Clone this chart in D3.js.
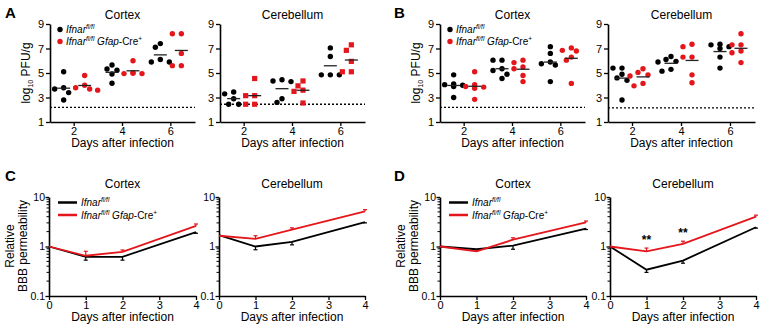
<!DOCTYPE html>
<html><head><meta charset="utf-8">
<script src="https://cdn.jsdelivr.net/npm/d3@7"></script>
<style>
html,body{margin:0;padding:0;background:#fff;}
svg{display:block;font-family:"Liberation Sans",Arial,sans-serif;}
</style></head><body>
<svg id="c" width="768" height="331"></svg>
<script>
// ---------- DATA ----------
const dayGroups = ["2", "4", "6"];
const scatterTicks = [1, 3, 5, 7, 9];
// Panel A (5 mice per group)
const aCortexCtrl = [[5.1, 3.8, 3.7, 3.4, 2.8], [5.65, 5.33, 5.22, 4.92, 4.16], [7.4, 7.1, 6.1, 5.9, 5.9]];
const aCortexKO   = [[4.8, 4.0, 3.8, 3.7, 3.6], [6.0, 5.0, 4.95, 4.95, 5.0], [8.2, 8.2, 6.6, 5.6, 5.6]];
const aCerebCtrl  = [[3.45, 3.3, 2.9, 2.45, 2.45], [4.45, 4.35, 4.3, 2.9, 2.6], [7.05, 6.35, 4.85, 4.85, 4.85]];
const aCerebKO    = [[4.55, 3.15, 3.15, 2.45, 2.45], [4.35, 3.95, 3.6, 3.5, 2.55], [7.3, 6.85, 5.95, 5.1, 5.1]];
const aLimit = [2.2, 2.45];
// Panel B (6 mice per group)
const bCortexCtrl = [[4.85, 4.1, 4.05, 4.0, 3.9, 3.0], [6.05, 6.05, 5.35, 5.2, 4.9, 4.55], [7.15, 6.6, 5.9, 5.75, 5.65, 4.3]];
const bCortexKO   = [[5.1, 4.05, 3.9, 3.85, 3.75, 2.85], [6.05, 5.85, 5.5, 5.35, 4.8, 4.3], [7.05, 6.85, 6.8, 6.3, 6.05, 4.15]];
const bCerebCtrl  = [[5.4, 5.4, 4.9, 4.6, 4.4, 2.8], [6.35, 6.1, 5.95, 5.9, 5.3, 5.15], [7.35, 7.3, 7.15, 7.0, 6.3, 5.4]];
const bCerebKO    = [[5.35, 5.05, 4.85, 4.75, 4.15, 3.95], [7.35, 7.15, 6.3, 6.3, 4.85, 4.2], [8.2, 7.3, 7.3, 6.8, 6.65, 5.85]];
const bLimit = [2.2, 2.15];
// Panels C, D: relative BBB permeability (mean, SEM)
const permDays = [0, 1, 2, 4];
const permTicks = [0, 1, 2, 3, 4];
const logTicks = [0.1, 1, 10];
const cCortexCtrl = [1.0, 0.62, 0.62, 1.95], cCortexCtrlErr = [0, 0.09, 0.09, 0.1];
const cCortexKO   = [1.0, 0.65, 0.78, 2.6],  cCortexKOErr   = [0, 0.15, 0.07, 0.25];
const cCerebCtrl  = [1.7, 1.0, 1.24, 3.1],   cCerebCtrlErr  = [0, 0.14, 0.16, 0.1];
const cCerebKO    = [1.65, 1.43, 2.18, 5.1], cCerebKOErr    = [0, 0.22, 0.2, 0.45];
const dCortexCtrl = [1.0, 0.88, 1.04, 2.3],  dCortexCtrlErr = [0, 0.03, 0.16, 0.1];
const dCortexKO   = [1.0, 0.8, 1.37, 3.07],  dCortexKOErr   = [0, 0.03, 0.13, 0.2];
const dCerebCtrl  = [1.0, 0.34, 0.52, 2.45], dCerebCtrlErr  = [0, 0.04, 0.06, 0.1];
const dCerebKO    = [1.0, 0.8, 1.13, 4.0],   dCerebKOErr    = [0, 0.13, 0.15, 0.3];
const dCerebSig   = [null, "**", "**", null];

const RED = "#e4161b", BLK = "#000";
const svg = d3.select("#c");

function legendText(g, x, y, ko) {
  const t = g.append("text").attr("x", x).attr("y", y).attr("font-size", 10);
  t.append("tspan").attr("font-style", "italic").text("Ifnar");
  t.append("tspan").attr("font-style", "italic").attr("font-size", 6.5).attr("dy", -4).text("fl/fl");
  if (ko) {
    t.append("tspan").attr("dy", 4).text(" ");
    t.append("tspan").attr("font-style", "italic").text("Gfap");
    t.append("tspan").text("-Cre");
    t.append("tspan").attr("font-size", 6.5).attr("dy", -4).text("+");
  }
}

function styleAxis(a, fs) {
  a.attr("font-family", null).attr("font-size", fs || 11);
  a.select(".domain").attr("stroke-width", 1.6);
  a.selectAll("line").attr("stroke-width", 1.3);
}

function scatterPanel(x0, x1, title, ctrl, ko, limit, redSquare, showY) {
  const y = d3.scaleLinear().domain([1, 9]).range([122, 24]);
  const x = d3.scaleBand().domain(dayGroups).range([x0, x1]);
  const g = svg.append("g");
  g.append("g").attr("transform", `translate(0,122)`)
    .call(d3.axisBottom(x).tickSize(4).tickPadding(1).tickSizeOuter(0))
    .call(styleAxis);
  g.append("g").attr("transform", `translate(${x0},0)`)
    .call(d3.axisLeft(y).tickValues(scatterTicks).tickSize(4).tickPadding(2).tickSizeOuter(0))
    .call(styleAxis);
  g.append("line").attr("x1", x0).attr("x2", x1).attr("y1", y(limit)).attr("y2", y(limit))
    .attr("stroke", "#000").attr("stroke-width", 1.3).attr("stroke-dasharray", "2,2");
  g.append("text").attr("x", (x0 + x1) / 2).attr("y", 19).attr("text-anchor", "middle").attr("font-size", 12).text(title);
  g.append("text").attr("x", (x0 + x1) / 2).attr("y", 147).attr("text-anchor", "middle").attr("font-size", 12).text("Days after infection");
  if (showY) {
    const t = g.append("text").attr("transform", `translate(${x0 - 20},73) rotate(-90)`).attr("text-anchor", "middle").attr("font-size", 12);
    t.append("tspan").text("log");
    t.append("tspan").attr("font-size", 7).attr("dy", 3).text("10");
    t.append("tspan").attr("dy", -3).text(" PFU/g");
  }
  const r = 2.7;
  function drawGroup(vals, cx, color, square) {
    const placed = [];
    const offs = [0, -5, 5, -9, 9, -13, 13];
    vals.forEach(v => {
      const py = y(v);
      let px = cx;
      for (const o of offs) {
        const ok = placed.every(p => Math.hypot(p[0] - (cx + o), p[1] - py) >= 2 * r + 0.4);
        if (ok) { px = cx + o; break; }
      }
      placed.push([px, py]);
    });
    placed.forEach(p => {
      if (square) g.append("rect").attr("x", p[0] - 2.6).attr("y", p[1] - 2.6).attr("width", 5.2).attr("height", 5.2).attr("fill", color);
      else g.append("circle").attr("cx", p[0]).attr("cy", p[1]).attr("r", r).attr("fill", color);
    });
    const m = d3.mean(vals);
    g.append("line").attr("x1", cx - 6.5).attr("x2", cx + 6.5).attr("y1", y(m)).attr("y2", y(m)).attr("stroke", "#222").attr("stroke-width", 1.3);
  }
  dayGroups.forEach((d, i) => {
    const c = x(d) + x.bandwidth() / 2;
    drawGroup(ctrl[i], c - 10.5, BLK, false);
    drawGroup(ko[i], c + 10.5, RED, redSquare);
  });
  if (showY) {
    g.append("circle").attr("cx", x0 + 10).attr("cy", 29.5).attr("r", r).attr("fill", BLK);
    legendText(g, x0 + 16, 33, false);
    g.append("circle").attr("cx", x0 + 10).attr("cy", 41.5).attr("r", r).attr("fill", RED);
    legendText(g, x0 + 16, 45, true);
  }
}

function permPanel(x0, x1, title, ctrl, ctrlErr, ko, koErr, showY, sig) {
  const y = d3.scaleLog().domain([0.1, 10]).range([296, 197]);
  const x = d3.scaleLinear().domain([0, 4]).range([x0, x1]);
  const g = svg.append("g");
  g.append("g").attr("transform", `translate(0,296)`)
    .call(d3.axisBottom(x).tickValues(permTicks).tickFormat(d3.format("d")).tickSize(4).tickPadding(1).tickSizeOuter(0))
    .call(styleAxis);
  const minor = [];
  [0.1, 1].forEach(b => { for (let k = 2; k <= 9; k++) minor.push(b * k); });
  g.append("g").attr("transform", `translate(${x0},0)`)
    .call(d3.axisLeft(y).tickValues(logTicks).tickFormat(d => d >= 1 ? d3.format("d")(d) : "0.1").tickSize(3.5).tickPadding(0.5).tickSizeOuter(0))
    .call(a => styleAxis(a, 10.5));
  g.append("g").selectAll("line").data(minor).join("line")
    .attr("x1", x0 - 2.5).attr("x2", x0).attr("y1", d => y(d)).attr("y2", d => y(d))
    .attr("stroke", "#000").attr("stroke-width", 1);
  g.append("text").attr("x", (x0 + x1) / 2).attr("y", 188).attr("text-anchor", "middle").attr("font-size", 12).text(title);
  g.append("text").attr("x", (x0 + x1) / 2).attr("y", 321).attr("text-anchor", "middle").attr("font-size", 12).text("Days after infection");
  if (showY) {
    g.append("text").attr("transform", `translate(${x0 - 35},246) rotate(-90)`).attr("text-anchor", "middle").attr("font-size", 12).text("Relative");
    g.append("text").attr("transform", `translate(${x0 - 22},246) rotate(-90)`).attr("text-anchor", "middle").attr("font-size", 12).text("BBB permeability");
  }
  const line = d3.line().x((d, i) => x(permDays[i])).y(d => y(d));
  function series(vals, errs, color, up) {
    g.append("path").datum(vals).attr("d", line).attr("fill", "none").attr("stroke", color).attr("stroke-width", 1.8);
    vals.forEach((v, i) => {
      if (!errs[i]) return;
      const e = up ? v + errs[i] : v - errs[i];
      const px = x(permDays[i]);
      g.append("line").attr("x1", px).attr("x2", px).attr("y1", y(v)).attr("y2", y(e)).attr("stroke", color).attr("stroke-width", 1.2);
      g.append("line").attr("x1", px - 2).attr("x2", px + 2).attr("y1", y(e)).attr("y2", y(e)).attr("stroke", color).attr("stroke-width", 1.2);
    });
  }
  series(ctrl, ctrlErr, BLK, false);
  series(ko, koErr, RED, true);
  if (sig) sig.forEach((s, i) => {
    if (!s) return;
    g.append("text").attr("x", x(permDays[i])).attr("y", y(ko[i] + koErr[i]) - 4).attr("text-anchor", "middle")
      .attr("font-size", 12).attr("font-weight", "bold").text(s);
  });
  if (showY) {
    g.append("line").attr("x1", x0 + 9).attr("x2", x0 + 28).attr("y1", 202.5).attr("y2", 202.5).attr("stroke", BLK).attr("stroke-width", 2.5);
    legendText(g, x0 + 32, 206, false);
    g.append("line").attr("x1", x0 + 9).attr("x2", x0 + 28).attr("y1", 215).attr("y2", 215).attr("stroke", RED).attr("stroke-width", 2.5);
    legendText(g, x0 + 32, 218.5, true);
  }
}

function letter(t, x, y) {
  svg.append("text").attr("x", x).attr("y", y).attr("font-size", 15).attr("font-weight", 900).text(t);
}

scatterPanel(50, 195, "Cortex", aCortexCtrl, aCortexKO, aLimit[0], false, true);
scatterPanel(220, 365, "Cerebellum", aCerebCtrl, aCerebKO, aLimit[1], true, false);
scatterPanel(440, 585, "Cortex", bCortexCtrl, bCortexKO, bLimit[0], false, true);
scatterPanel(608, 755, "Cerebellum", bCerebCtrl, bCerebKO, bLimit[1], false, false);
permPanel(49, 196, "Cortex", cCortexCtrl, cCortexCtrlErr, cCortexKO, cCortexKOErr, true, null);
permPanel(219, 365, "Cerebellum", cCerebCtrl, cCerebCtrlErr, cCerebKO, cCerebKOErr, false, null);
permPanel(440, 586, "Cortex", dCortexCtrl, dCortexCtrlErr, dCortexKO, dCortexKOErr, true, null);
permPanel(610, 756, "Cerebellum", dCerebCtrl, dCerebCtrlErr, dCerebKO, dCerebKOErr, false, dCerebSig);
letter("A", 5, 18);
letter("B", 394, 18);
letter("C", 5, 181);
letter("D", 394, 181);
</script></body></html>
